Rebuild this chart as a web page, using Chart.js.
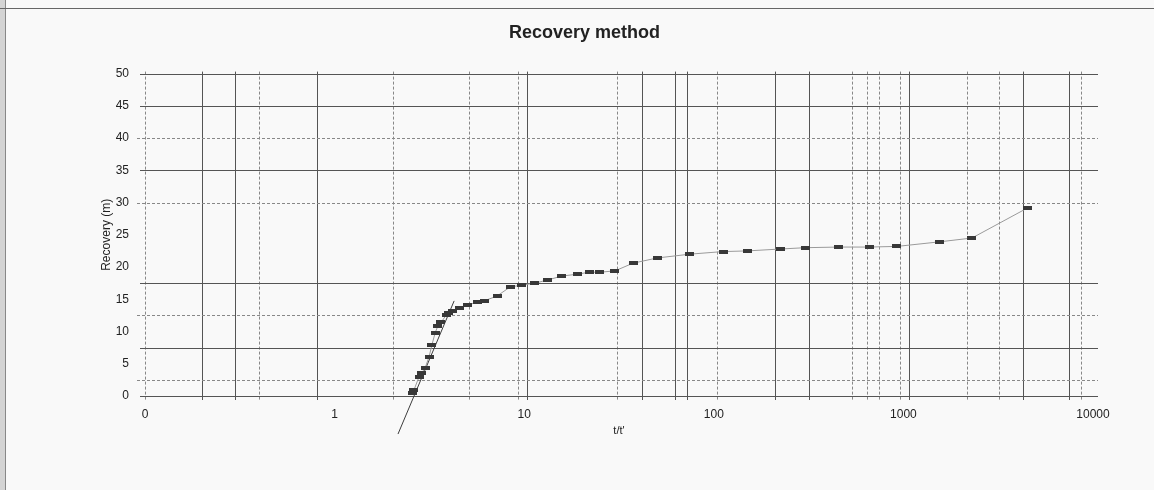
<!DOCTYPE html>
<html>
<head>
<meta charset="utf-8">
<title>Recovery method</title>
<script src="https://cdn.jsdelivr.net/npm/chart.js@4.4.1/dist/chart.umd.min.js"></script>
<style>
    body { margin: 0; background: #f9f9f9; }
    #wrap { position: relative; width: 1154px; height: 490px; overflow: hidden; }
    #edge { position: absolute; left: 0; top: 0; width: 5px; height: 490px; background: #d4d4d4; border-right: 1px solid #888; }
    #topline { position: absolute; left: 0; top: 8px; width: 1154px; height: 1px; background: #666; }
</style>
</head>
<body>
<div id="wrap">
    <canvas id="graph" width="1154" height="490"></canvas>
    <div id="edge"></div>
    <div id="topline"></div>
</div>
<script>
// readings: t/t' against recovery (m)
const ratio = [2.56, 2.62, 2.79, 2.86, 3.00, 3.15, 3.26, 3.39, 3.51, 3.64,
    3.87, 4.01, 4.21, 4.58, 5.05, 5.70, 6.21, 7.19, 8.42, 9.73,
    11.4, 13.3, 15.8, 19.2, 22.0, 25.1, 30.1, 37.5, 50.2, 74.8,
    112, 150, 226, 303, 457, 659, 925, 1541, 2300, 4540];
const recovery = [0.5, 0.9, 3.0, 3.5, 4.3, 6.1, 7.9, 9.8, 10.9, 11.4,
    12.5, 12.9, 13.2, 13.6, 14.1, 14.6, 14.8, 15.5, 16.9, 17.2,
    17.5, 18.0, 18.6, 18.9, 19.2, 19.2, 19.4, 20.6, 21.4, 22.0,
    22.4, 22.5, 22.8, 23.0, 23.1, 23.1, 23.2, 23.9, 24.5, 29.2];

// straight line drawn through the early recovery
const fitX = [2.16, 4.27];
const fitY = [-5.9, 14.75];

const xTickValues = [0.1, 1, 10, 100, 1000, 10000];
const xTickLabels = ['0', '1', '10', '100', '1000', '10000'];

// grid of the printed sheet, not on the tick values
const xGridSolid = [0.2, 0.3, 0.81, 10.4, 41.8, 62.4, 72.2, 210, 318, 1071, 4275, 7469];
const xGridDashed = [0.1, 0.4, 2.03, 5.1, 9.3, 30.8, 104, 535, 643, 743, 959, 2164, 3191, 8643];
const yGridSolid = [50, 45, 35, 17.5, 7.5, 0];
const yGridDashed = [40, 30, 12.5, 2.5];

Chart.defaults.font.family = "'Liberation Sans', Arial, sans-serif";
Chart.defaults.color = '#222';

// little flat bar used as the point marker
const marker = document.createElement('canvas');
marker.width = 9;
marker.height = 4;
let mctx = marker.getContext('2d');
mctx.fillStyle = '#383838';
mctx.fillRect(0, 0, 9, 4);

const paperGrid = {
    id: 'paperGrid',
    beforeDatasetsDraw(chart)
    {
        const {ctx, chartArea, scales} = chart;
        const x = scales.x;
        const y = scales.y;
        ctx.save();
        ctx.lineWidth = 1;

        function vertical(v, dashed)
        {
            let px = Math.round(x.getPixelForValue(v)) + 0.5;
            ctx.strokeStyle = dashed ? '#888' : '#555';
            ctx.setLineDash(dashed ? [3, 2] : []);
            ctx.beginPath();
            ctx.moveTo(px, chartArea.top - 2);
            ctx.lineTo(px, chartArea.bottom + 4);
            ctx.stroke();
        }

        function horizontal(v, dashed)
        {
            let py = Math.round(y.getPixelForValue(v)) + 0.5;
            ctx.strokeStyle = dashed ? '#888' : '#555';
            ctx.setLineDash(dashed ? [3, 2] : []);
            ctx.beginPath();
            ctx.moveTo(chartArea.left - (dashed ? 8 : 5), py);
            ctx.lineTo(chartArea.right + 5, py);
            ctx.stroke();
        }

        xGridDashed.forEach(v => vertical(v, true));
        xGridSolid.forEach(v => vertical(v, false));
        yGridDashed.forEach(v => horizontal(v, true));
        yGridSolid.forEach(v => horizontal(v, false));
        ctx.restore();
    }
};

const ctx = document.getElementById('graph');

new Chart(ctx, {
    type: 'scatter',
    data: {
        datasets: [
            {
                label: 'Recovery',
                data: ratio.map((r, i) => ({x: r, y: recovery[i]})),
                showLine: true,
                borderColor: '#9a9a9a',
                borderWidth: 1,
                pointStyle: marker,
                pointRadius: 4,
                pointHoverRadius: 4
            },
            {
                label: 'Fit',
                data: fitX.map((r, i) => ({x: r, y: fitY[i]})),
                showLine: true,
                borderColor: '#3c3c3c',
                borderWidth: 1,
                pointRadius: 0,
                clip: false
            }
        ]
    },
    options: {
        responsive: false,
        animation: false,
        layout: {
            // left padding pulls the title's centre over to where the print has it
            padding: {left: 76, right: 61, top: 0, bottom: 0}
        },
        plugins: {
            legend: {display: false},
            tooltip: {enabled: false},
            title: {
                display: true,
                text: 'Recovery method',
                color: '#222',
                font: {size: 18, weight: 'bold'},
                padding: {top: 22, bottom: 30}
            }
        },
        scales: {
            x: {
                type: 'logarithmic',
                min: 0.1,
                max: 10000,
                afterFit: (scale) => { scale.height = 94; },
                afterBuildTicks: (scale) => {
                    scale.ticks = xTickValues.map(v => ({value: v}));
                },
                grid: {display: false, drawTicks: false},
                border: {display: false},
                ticks: {
                    autoSkip: false,
                    maxRotation: 0,
                    padding: 11,
                    font: {size: 12},
                    callback: (value, index) => xTickLabels[index]
                },
                title: {
                    display: true,
                    text: "t/t'",
                    font: {size: 11},
                    padding: {top: 0, bottom: 52}
                }
            },
            y: {
                min: 0,
                max: 50,
                afterFit: (scale) => { scale.width = 69; },
                grid: {display: false, drawTicks: false},
                border: {display: false},
                ticks: {
                    stepSize: 5,
                    padding: 16,
                    font: {size: 12}
                },
                title: {
                    display: true,
                    text: 'Recovery (m)',
                    font: {size: 12},
                    padding: {top: 23, bottom: 0}
                }
            }
        }
    },
    plugins: [paperGrid]
});
</script>
</body>
</html>
